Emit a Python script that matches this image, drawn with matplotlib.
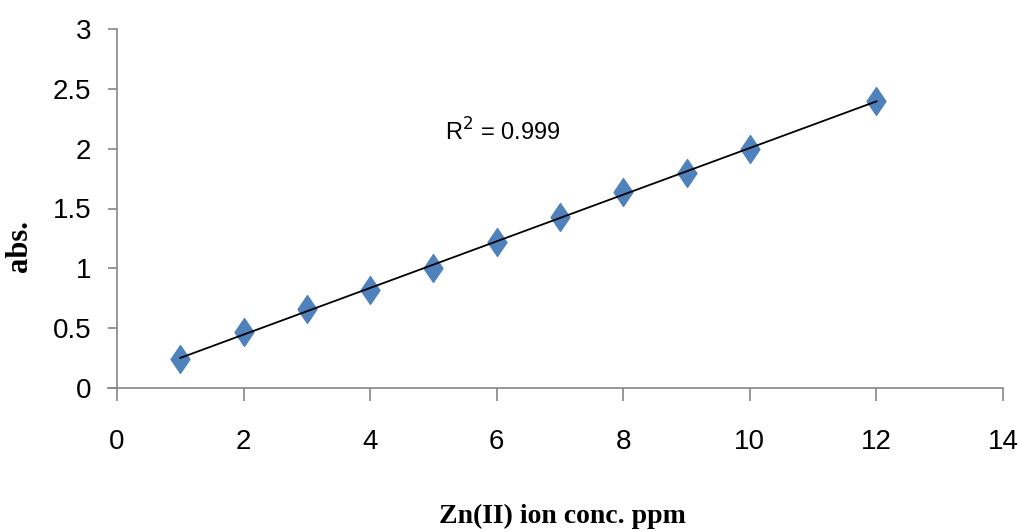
import matplotlib
matplotlib.use("Agg")
import matplotlib.pyplot as plt
import numpy as np
from matplotlib.path import Path
from matplotlib.ticker import FuncFormatter

conc = [1, 2, 3, 4, 5, 6, 7, 8, 9, 10, 12]
absorb = [0.24, 0.47, 0.66, 0.82, 1.00, 1.22, 1.43, 1.64, 1.80, 2.00, 2.40]
x_ticks = [0, 2, 4, 6, 8, 10, 12, 14]
y_ticks = [0, 0.5, 1, 1.5, 2, 2.5, 3]
r2_text = "R$^2$ = 0.999"
x_label = "Zn(II) ion conc. ppm"
y_label = "abs."

fig = plt.figure(figsize=(10.18, 5.32), dpi=100)
ax = fig.add_axes([117/1018, 1-388/532, (1003-117)/1018, (388-29)/532])

diamond = Path([(0, 1), (0.68, 0), (0, -1), (-0.68, 0), (0, 1)],
               [Path.MOVETO, Path.LINETO, Path.LINETO, Path.LINETO, Path.CLOSEPOLY])

ax.plot(conc, absorb, linestyle='none', marker=diamond, markersize=20,
        color='#4F81BD', markeredgecolor='#4F81BD', zorder=2)

coef = np.polyfit(conc, absorb, 1)
xf = np.array([min(conc), max(conc)])
ax.plot(xf, np.polyval(coef, xf), color='black', linewidth=1.3, zorder=3)

ax.set_xlim(0, 14)
ax.set_ylim(0, 3)
ax.set_xticks(x_ticks)
ax.set_yticks(y_ticks)
ax.yaxis.set_major_formatter(FuncFormatter(lambda v, p: f"{v:g}"))

for s in ['top', 'right']:
    ax.spines[s].set_visible(False)
for s in ['left', 'bottom']:
    ax.spines[s].set_color('#868686')
    ax.spines[s].set_linewidth(1.2)
ax.spines['bottom'].set_bounds(-0.14, 14)
ax.spines['bottom'].set_clip_on(False)

ax.tick_params(axis='x', direction='out', length=9.5, width=1.2, color='#868686',
               pad=20, labelsize=20)
ax.tick_params(axis='y', direction='out', length=6.5, width=1.2, color='#868686',
               pad=12, labelsize=20)
for lab in ax.get_xticklabels() + ax.get_yticklabels():
    lab.set_fontfamily('Liberation Sans')

ax.text(5.18, 2.14, r2_text, fontsize=17, family='Liberation Sans',
        ha='left', va='center')

fig.text(562/1018, 1-516/532, x_label, fontsize=20, family='Liberation Serif',
         fontweight='bold', ha='center', va='center')
fig.text(20/1018, 1-246/532, y_label, fontsize=22, family='Liberation Serif',
         fontweight='bold', ha='center', va='center', rotation=90)

fig.savefig("out.png", dpi=100)
